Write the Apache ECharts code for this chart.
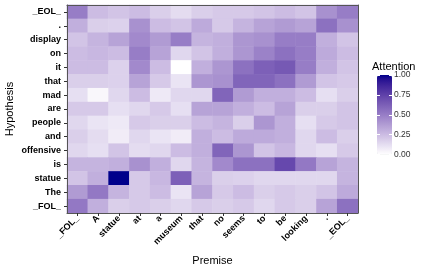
<!DOCTYPE html>
<html><head><meta charset="utf-8">
<script src="https://cdn.jsdelivr.net/npm/echarts@6/dist/echarts.min.js"></script>
<style>html,body{margin:0;padding:0;background:#fff}#c{width:427px;height:270px}</style>
</head><body><div id="c"></div>
<script>
const premise = ['_FOL_','A','statue','at','a','museum','that','no','seems','to','be','looking','.','_EOL_'];
const hypothesis = ['_EOL_','.','display','on','it','that','mad','are','people','and','offensive','is','statue','The','_FOL_'];
const legendTicks = [0, 0.25, 0.5, 0.75, 1];
// rows listed top to bottom (hypothesis order), columns in premise order
const rowEOL       = [0.50,0.25,0.22,0.25,0.18,0.13,0.18,0.20,0.20,0.22,0.25,0.22,0.42,0.50];
const rowDot       = [0.30,0.18,0.17,0.42,0.25,0.22,0.32,0.20,0.28,0.35,0.38,0.35,0.55,0.42];
const rowDisplay   = [0.22,0.28,0.35,0.45,0.38,0.50,0.28,0.30,0.40,0.42,0.50,0.50,0.30,0.22];
const rowOn        = [0.25,0.27,0.25,0.50,0.35,0.15,0.22,0.30,0.40,0.48,0.55,0.50,0.32,0.25];
const rowIt        = [0.25,0.25,0.17,0.45,0.25,0.00,0.30,0.40,0.55,0.62,0.65,0.50,0.30,0.22];
const rowThat      = [0.18,0.18,0.17,0.35,0.20,0.10,0.40,0.42,0.60,0.60,0.55,0.38,0.22,0.20];
const rowMad       = [0.12,0.03,0.15,0.25,0.08,0.15,0.15,0.60,0.38,0.30,0.30,0.25,0.12,0.18];
const rowAre       = [0.20,0.20,0.12,0.15,0.20,0.12,0.35,0.35,0.30,0.25,0.35,0.18,0.18,0.22];
const rowPeople    = [0.15,0.10,0.08,0.20,0.18,0.18,0.25,0.28,0.18,0.40,0.30,0.12,0.20,0.22];
const rowAnd       = [0.18,0.13,0.07,0.15,0.10,0.07,0.30,0.25,0.32,0.32,0.30,0.15,0.25,0.18];
const rowOffensive = [0.15,0.12,0.22,0.13,0.15,0.25,0.30,0.60,0.40,0.22,0.27,0.15,0.12,0.20];
const rowIs        = [0.28,0.28,0.30,0.42,0.30,0.15,0.28,0.45,0.55,0.55,0.72,0.52,0.35,0.28];
const rowStatue    = [0.22,0.30,1.00,0.20,0.27,0.62,0.28,0.18,0.17,0.15,0.15,0.15,0.15,0.28];
const rowThe       = [0.38,0.52,0.28,0.20,0.25,0.10,0.35,0.20,0.25,0.18,0.20,0.18,0.22,0.32];
const rowFOL       = [0.52,0.30,0.18,0.20,0.18,0.15,0.20,0.18,0.20,0.15,0.20,0.18,0.35,0.55];
const attention = [rowEOL,rowDot,rowDisplay,rowOn,rowIt,rowThat,rowMad,rowAre,rowPeople,rowAnd,rowOffensive,rowIs,rowStatue,rowThe,rowFOL];

// Lab interpolation white -> darkblue (like ggplot's gradient)
function srgb2lin(c){c/=255;return c<=0.04045?c/12.92:Math.pow((c+0.055)/1.055,2.4);}
function lin2srgb(c){c=c<=0.0031308?12.92*c:1.055*Math.pow(c,1/2.4)-0.055;return Math.max(0,Math.min(255,Math.round(c*255)));}
function rgb2lab(r,g,b){
  r=srgb2lin(r);g=srgb2lin(g);b=srgb2lin(b);
  let X=(0.4124*r+0.3576*g+0.1805*b)/0.95047,Y=(0.2126*r+0.7152*g+0.0722*b),Z=(0.0193*r+0.1192*g+0.9505*b)/1.08883;
  const f=t=>t>0.008856?Math.cbrt(t):7.787*t+16/116;
  const fx=f(X),fy=f(Y),fz=f(Z);
  return [116*fy-16,500*(fx-fy),200*(fy-fz)];
}
function lab2rgb(L,a,bb){
  const fy=(L+16)/116,fx=fy+a/500,fz=fy-bb/200;
  const fi=t=>t*t*t>0.008856?t*t*t:(t-16/116)/7.787;
  const X=fi(fx)*0.95047,Y=fi(fy),Z=fi(fz)*1.08883;
  const r=3.2406*X-1.5372*Y-0.4986*Z,g=-0.9689*X+1.8758*Y+0.0415*Z,b=0.0557*X-0.2040*Y+1.0570*Z;
  return 'rgb('+lin2srgb(r)+','+lin2srgb(g)+','+lin2srgb(b)+')';
}
const lo=rgb2lab(255,255,255),hi=rgb2lab(0,0,139);
const ramp=[];
for(let i=0;i<=20;i++){const t=i/20;ramp.push(lab2rgb(lo[0]+(hi[0]-lo[0])*t,lo[1]+(hi[1]-lo[1])*t,lo[2]+(hi[2]-lo[2])*t));}

const data=[];
attention.forEach((row,yi)=>row.forEach((v,xi)=>data.push([xi,yi,v])));

const FONT='"Liberation Sans", Arial, sans-serif';
const chart=echarts.init(document.getElementById('c'),null,{renderer:'canvas'});
chart.setOption({
  animation:false,
  textStyle:{fontFamily:FONT},
  title:{text:'Attention',left:372,top:61,padding:0,textStyle:{fontFamily:FONT,fontSize:11,fontWeight:'normal',color:'#000'}},
  grid:[
    {left:67,top:5,width:291,height:208,outerBoundsMode:'none',containLabel:false},
    {left:377,top:75,width:15,height:79.5,outerBoundsMode:'none',containLabel:false}
  ],
  xAxis:[
    {type:'category',gridIndex:0,data:premise,position:'bottom',z:10,
     name:'Premise',nameLocation:'middle',nameGap:42.5,nameMoveOverlap:false,nameTextStyle:{fontSize:11,color:'#000',fontFamily:FONT},
     axisLine:{show:true,lineStyle:{color:'#555',width:1}},
     axisTick:{show:true,alignWithLabel:true,length:3,lineStyle:{color:'#333'}},
     axisLabel:{rotate:45,fontSize:9,fontWeight:'bold',color:'#000',margin:4,interval:0,fontFamily:FONT},
     splitLine:{show:false}},
    {type:'category',gridIndex:0,data:premise,position:'top',z:10,
     axisLine:{show:true,lineStyle:{color:'#555',width:1}},axisTick:{show:false},axisLabel:{show:false}},
    {type:'category',gridIndex:1,data:['x'],show:false}
  ],
  yAxis:[
    {type:'category',gridIndex:0,data:hypothesis,inverse:true,position:'left',z:10,
     name:'Hypothesis',nameLocation:'middle',nameGap:52,nameMoveOverlap:false,nameRotate:90,nameTextStyle:{fontSize:11,color:'#000',fontFamily:FONT},
     axisLine:{show:true,lineStyle:{color:'#555',width:1}},
     axisTick:{show:true,alignWithLabel:true,length:3,lineStyle:{color:'#333'}},
     axisLabel:{fontSize:9,fontWeight:'bold',color:'#000',margin:6,interval:0,fontFamily:FONT},
     splitLine:{show:false}},
    {type:'category',gridIndex:0,data:hypothesis,inverse:true,position:'right',z:10,
     axisLine:{show:true,lineStyle:{color:'#555',width:1}},axisTick:{show:false},axisLabel:{show:false}},
    {type:'value',gridIndex:1,min:0,max:1,interval:0.25,position:'right',z:10,
     axisLine:{show:false},splitLine:{show:false},
     axisTick:{show:true,inside:true,length:3,lineStyle:{color:'#fff'}},
     axisLabel:{fontSize:8.5,color:'#333',margin:2,formatter:v=>legendTicks.includes(v)?v.toFixed(2):'',fontFamily:FONT}},
    {type:'value',gridIndex:1,min:0,max:1,interval:0.25,position:'left',z:10,
     axisLine:{show:false},splitLine:{show:false},
     axisTick:{show:true,inside:true,length:3,lineStyle:{color:'#fff'}},
     axisLabel:{show:false}}
  ],
  visualMap:{type:'continuous',min:0,max:1,seriesIndex:0,calculable:false,showLabel:false,text:null,
    left:377,top:75,itemWidth:15,itemHeight:79.5,padding:0,inRange:{color:ramp},z:2},
  series:[
    {type:'heatmap',xAxisIndex:0,yAxisIndex:0,data:data,itemStyle:{borderWidth:0},emphasis:{disabled:true}},
    {type:'line',xAxisIndex:2,yAxisIndex:2,data:[],silent:true}
  ]
});
</script></body></html>
